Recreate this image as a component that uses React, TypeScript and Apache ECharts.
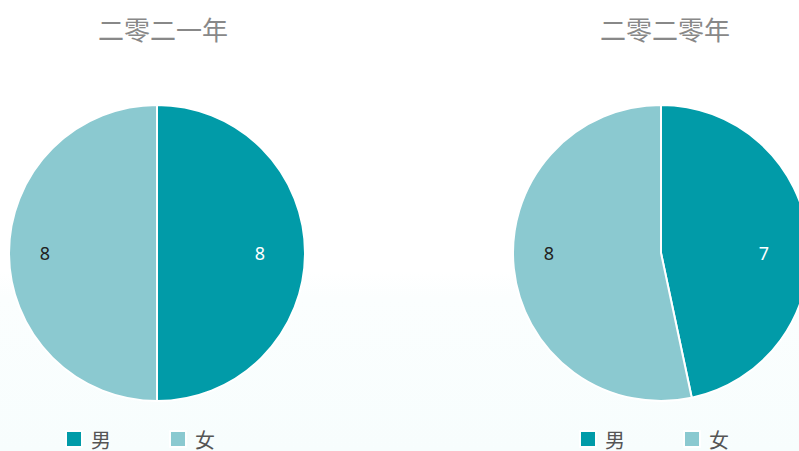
import React, { useEffect, useRef } from "react";
import * as echarts from "echarts";

const categories = ["男", "女"];
const titles = ["二零二一年", "二零二零年"];
const values2021 = [8, 8];
const values2020 = [7, 8];
const colors = ["#019BA8", "#8BC9D0"];

export default function App() {
  const ref = useRef<HTMLDivElement>(null);
  useEffect(() => {
    if (!ref.current) return;
    const chart = echarts.init(ref.current, null, { renderer: "svg" });
    const centers = [157, 661];
    const datasets = [values2021, values2020];
    const makeSeries = (idx: number) => ({
      type: "pie",
      name: titles[idx],
      center: [centers[idx], 253],
      radius: 148,
      startAngle: 90,
      clockwise: true,
      color: colors,
      itemStyle: { borderColor: "#fff", borderWidth: 2 },
      label: {
        show: true,
        position: "inside",
        fontSize: 18,
        fontFamily: "Noto Sans",
        formatter: "{c}",
      },
      labelLine: { show: false },
      labelLayout: (p: any) => ({
        x: centers[idx] + (p.dataIndex === 0 ? 103 : -112),
        y: 253,
        align: "center",
        verticalAlign: "middle",
      }),
      emphasis: { disabled: true },
      data: categories.map((c, i) => ({
        name: c,
        value: datasets[idx][i],
        label: { color: i === 0 ? "#ffffff" : "#222222" },
      })),
    });
    const titleStyle = {
      fontSize: 26,
      fontWeight: "normal",
      color: "#888888",
      fontFamily: "Noto Sans CJK SC",
    };
    const legendBase = {
      data: categories,
      top: 429,
      padding: 0,
      icon: "rect",
      itemWidth: 16,
      itemHeight: 16,
      itemGap: 58,
      textStyle: {
        fontSize: 20,
        lineHeight: 20,
        color: "#555555",
        fontFamily: "Noto Sans CJK SC",
        padding: [0, 0, 0, 4],
      },
      selectedMode: false,
    };
    chart.setOption({
      animation: false,
      backgroundColor: {
        type: "linear",
        x: 0,
        y: 0,
        x2: 0,
        y2: 1,
        colorStops: [
          { offset: 0, color: "#ffffff" },
          { offset: 0.6, color: "#ffffff" },
          { offset: 0.66, color: "#fbfefe" },
          { offset: 1, color: "#f7fdfd" },
        ],
      },
      title: [
        { text: titles[0], left: 93, top: 10, textStyle: titleStyle },
        { text: titles[1], left: 595, top: 10, textStyle: titleStyle },
      ],
      legend: [
        { ...legendBase, left: 65 },
        { ...legendBase, left: 579 },
      ],
      series: [makeSeries(0), makeSeries(1)],
    });
    return () => chart.dispose();
  }, []);
  return (
    <div
      ref={ref}
      style={{ position: "fixed", left: 0, top: 0, width: 799, height: 451 }}
    />
  );
}
